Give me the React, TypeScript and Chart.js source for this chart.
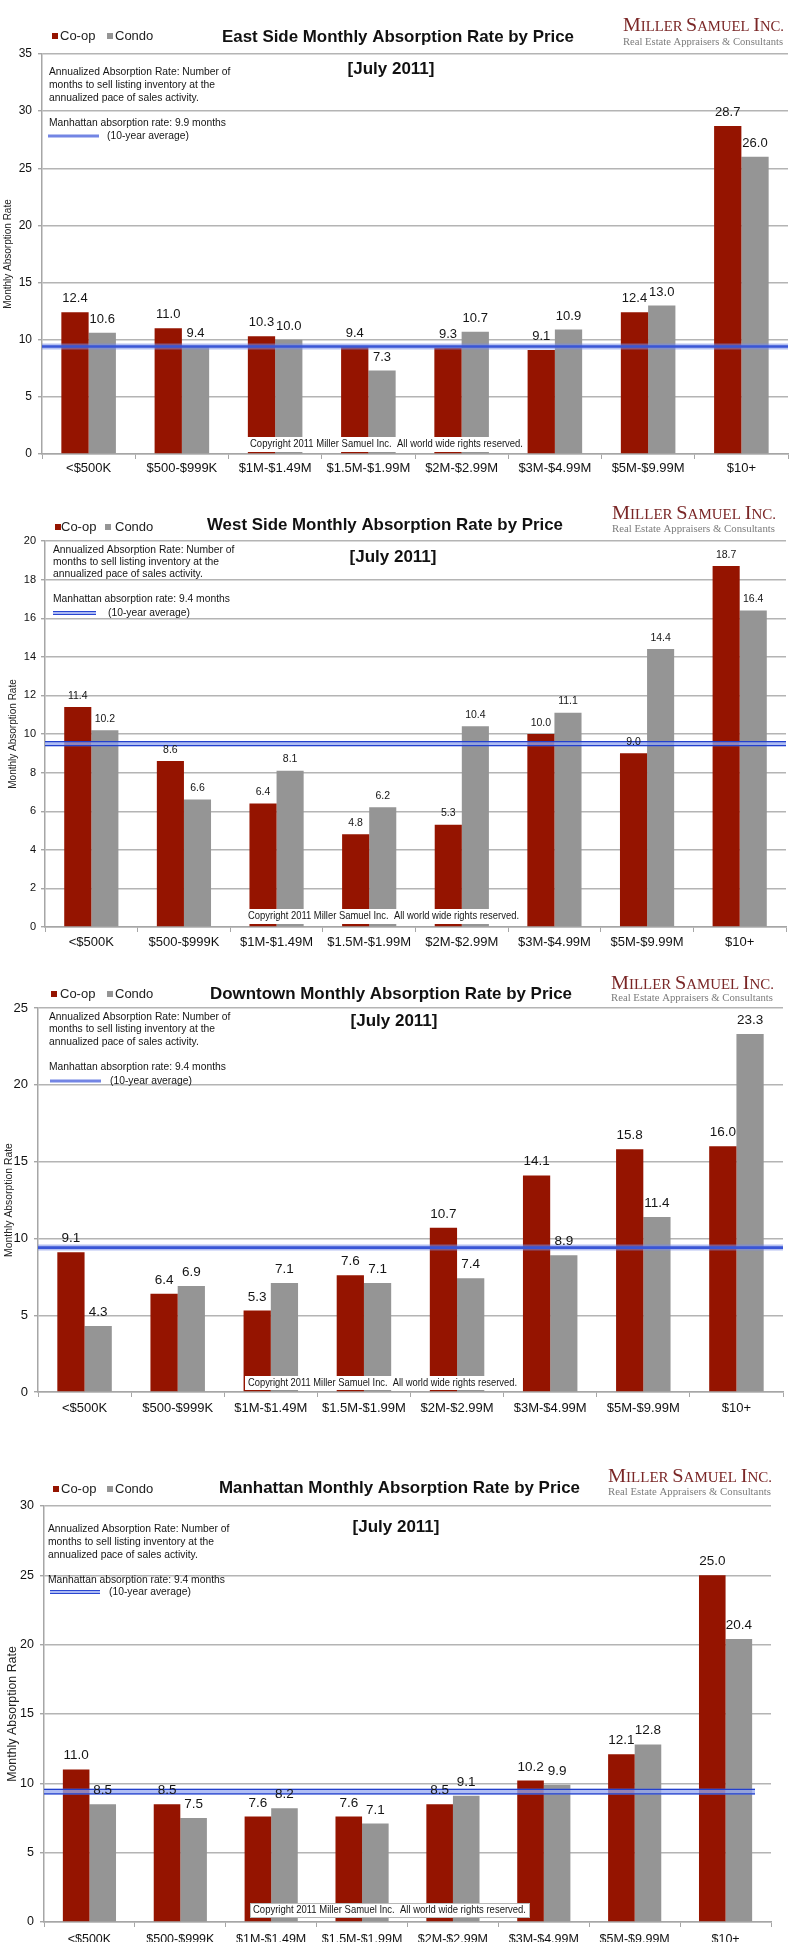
import React, { useEffect, useRef } from "react";
import { Chart, registerables } from "chart.js";

Chart.register(...registerables);

// ---------------- DATA ----------------
const CATEGORIES = ["<$500K", "$500-$999K", "$1M-$1.49M", "$1.5M-$1.99M", "$2M-$2.99M", "$3M-$4.99M", "$5M-$9.99M", "$10+"];

const EAST_COOP = [12.4, 11.0, 10.3, 9.4, 9.3, 9.1, 12.4, 28.7];
const EAST_CONDO = [10.6, 9.4, 10.0, 7.3, 10.7, 10.9, 13.0, 26.0];
const WEST_COOP = [11.4, 8.6, 6.4, 4.8, 5.3, 10.0, 9.0, 18.7];
const WEST_CONDO = [10.2, 6.6, 8.1, 6.2, 10.4, 11.1, 14.4, 16.4];
const DOWNTOWN_COOP = [9.1, 6.4, 5.3, 7.6, 10.7, 14.1, 15.8, 16.0];
const DOWNTOWN_CONDO = [4.3, 6.9, 7.1, 7.1, 7.4, 8.9, 11.4, 23.3];
const MANHATTAN_COOP = [11.0, 8.5, 7.6, 7.6, 8.5, 10.2, 12.1, 25.0];
const MANHATTAN_CONDO = [8.5, 7.5, 8.2, 7.1, 9.1, 9.9, 12.8, 20.4];

const COOP_SERIES = [EAST_COOP, WEST_COOP, DOWNTOWN_COOP, MANHATTAN_COOP];
const CONDO_SERIES = [EAST_CONDO, WEST_CONDO, DOWNTOWN_CONDO, MANHATTAN_CONDO];
const TITLES = [
  "East Side Monthly Absorption Rate by Price",
  "West Side Monthly Absorption Rate by Price",
  "Downtown Monthly Absorption Rate by Price",
  "Manhattan Monthly Absorption Rate by Price",
];
const AVG_TEXT = ["9.9", "9.4", "9.4", "9.4"];
const AVG_LINE = [9.4, 9.5, 9.4, 9.4];
const Y_MAX = [35, 20, 25, 30];
const Y_STEP = [5, 2, 5, 5];
const SERIES_NAMES = ["Co-op", "Condo"];
const PERIOD = "[July 2011]";
const NOTE_LINES = [
  "Annualized Absorption Rate: Number of",
  "months to sell listing inventory at the",
  "annualized pace of sales activity.",
];
const COPYRIGHT = "Copyright 2011 Miller Samuel Inc.  All world wide rights reserved.";
const Y_TITLE = "Monthly Absorption Rate";
const LOGO = "MILLER SAMUEL INC.";
const LOGO_SUB = "Real Estate Appraisers & Consultants";

// ---------------- STYLE / LAYOUT (panel-relative pixels) ----------------
const FF = '"Liberation Sans", Arial, Helvetica, sans-serif';
const SERIF = '"Liberation Serif", "Times New Roman", serif';
const COOP_COLOR = "#951400";
const CONDO_COLOR = "#959595";
const GRID_COLOR = "#b4b4b4";
const AXIS_COLOR = "#a6a6a6";
const TEXT = "#151515";

type Layout = {
  top: number; height: number;
  left: number; right: number; plotTop: number; plotBottom: number;
  titleX1: number; titleX2: number; titleY: number;
  legSq1: number; legTx1: number; legSq2: number; legTx2: number; legY: number;
  logoX1: number; logoX2: number; logoY: number; subY: number;
  julyX: number; julyY: number;
  noteX: number; noteY: number[]; rateY: number;
  swX1: number; swX2: number; swY: number; avgTextX: number;
  copy: [number, number, number, number]; copyText: [number, number]; copyBorder: boolean;
  labelFont: number; labelGap: number; yFont: number; yPad: number; xFont: number;
  yTitleFont: number; yTitlePad: number;
  lineStyle: "single" | "double"; lineEnd: number; xPad: number;
};

const LAYOUTS: Layout[] = [
  {
    top: 0, height: 480, left: 42, right: 788, plotTop: 54, plotBottom: 454,
    titleX1: 222, titleX2: 574, titleY: 37,
    legSq1: 52, legTx1: 60, legSq2: 107, legTx2: 115, legY: 36,
    logoX1: 623, logoX2: 784, logoY: 24, subY: 42,
    julyX: 391, julyY: 69,
    noteX: 49, noteY: [72, 85, 98], rateY: 123,
    swX1: 48, swX2: 99, swY: 136, avgTextX: 107,
    copy: [247, 437, 526, 452], copyText: [250, 523], copyBorder: false,
    labelFont: 13, labelGap: 7, yFont: 12, yPad: 6, xFont: 13, yTitleFont: 10, yTitlePad: 2,
    lineStyle: "single", lineEnd: 788, xPad: 2,
  },
  {
    top: 480, height: 470, left: 45, right: 786, plotTop: 61, plotBottom: 447,
    titleX1: 207, titleX2: 563, titleY: 45,
    legSq1: 55, legTx1: 61, legSq2: 105, legTx2: 115, legY: 47,
    logoX1: 612, logoX2: 776, logoY: 32, subY: 49,
    julyX: 393, julyY: 77,
    noteX: 53, noteY: [70, 82, 94], rateY: 119,
    swX1: 53, swX2: 96, swY: 133, avgTextX: 108,
    copy: [245, 429, 522, 444], copyText: [248, 519], copyBorder: false,
    labelFont: 10.5, labelGap: 6, yFont: 11, yPad: 5, xFont: 13, yTitleFont: 10, yTitlePad: 7,
    lineStyle: "double", lineEnd: 786, xPad: 3,
  },
  {
    top: 950, height: 490, left: 38, right: 783, plotTop: 58, plotBottom: 442,
    titleX1: 210, titleX2: 572, titleY: 44,
    legSq1: 51, legTx1: 60, legSq2: 107, legTx2: 115, legY: 44,
    logoX1: 611, logoX2: 774, logoY: 32, subY: 48,
    julyX: 394, julyY: 71,
    noteX: 49, noteY: [67, 79, 92], rateY: 117,
    swX1: 50, swX2: 101, swY: 131, avgTextX: 110,
    copy: [245, 426, 520, 440], copyText: [248, 517], copyBorder: false,
    labelFont: 13.5, labelGap: 7, yFont: 13, yPad: 6, xFont: 13, yTitleFont: 10.4, yTitlePad: 3,
    lineStyle: "single", lineEnd: 783, xPad: 4,
  },
  {
    top: 1440, height: 509, left: 44, right: 771, plotTop: 66, plotBottom: 482,
    titleX1: 219, titleX2: 580, titleY: 48,
    legSq1: 53, legTx1: 61, legSq2: 107, legTx2: 115, legY: 49,
    logoX1: 608, logoX2: 772, logoY: 35, subY: 52,
    julyX: 396, julyY: 87,
    noteX: 48, noteY: [89, 102, 115], rateY: 140,
    swX1: 50, swX2: 100, swY: 152, avgTextX: 109,
    copy: [250, 463, 530, 478], copyText: [253, 526], copyBorder: true,
    labelFont: 13.5, labelGap: 7, yFont: 12.5, yPad: 6, xFont: 12.5, yTitleFont: 12.4, yTitlePad: 5,
    lineStyle: "double", lineEnd: 755, xPad: 5,
  },
];

const X_AXIS_H = 20;

// ---------------- DRAW HELPERS ----------------
function drawText(ctx: CanvasRenderingContext2D, s: string, x: number, y: number, font: string, color: string, align: CanvasTextAlign = "left") {
  ctx.save();
  ctx.font = font;
  ctx.fillStyle = color;
  ctx.textAlign = align;
  ctx.textBaseline = "middle";
  ctx.fillText(s, x, y);
  ctx.restore();
}

// draws text stretched/compressed horizontally to span x1..x2
function fitText(ctx: CanvasRenderingContext2D, s: string, x1: number, x2: number, y: number, font: string, color: string) {
  ctx.save();
  ctx.font = font;
  const w = ctx.measureText(s).width;
  const k = (x2 - x1) / w;
  ctx.translate(x1, y);
  ctx.scale(k, 1);
  ctx.fillStyle = color;
  ctx.textAlign = "left";
  ctx.textBaseline = "middle";
  ctx.fillText(s, 0, 0);
  ctx.restore();
}

function smallCaps(ctx: CanvasRenderingContext2D, s: string, x1: number, x2: number, yBase: number, big: number, small: number, color: string) {
  const parts: { ch: string; size: number }[] = [];
  let wordStart = true;
  for (const ch of s) {
    if (ch === " ") { parts.push({ ch, size: small }); wordStart = true; continue; }
    parts.push({ ch, size: wordStart ? big : small });
    wordStart = false;
  }
  ctx.save();
  let total = 0;
  const widths = parts.map((p) => {
    ctx.font = `${p.size}px ${SERIF}`;
    const w = ctx.measureText(p.ch).width;
    total += w;
    return w;
  });
  const k = (x2 - x1) / total;
  ctx.translate(x1, yBase);
  ctx.scale(k, 1);
  ctx.fillStyle = color;
  ctx.textBaseline = "alphabetic";
  let x = 0;
  parts.forEach((p, i) => {
    ctx.font = `${p.size}px ${SERIF}`;
    ctx.fillText(p.ch, x, 0);
    x += widths[i];
  });
  ctx.restore();
}

function drawAvg(ctx: CanvasRenderingContext2D, x1: number, x2: number, y: number, style: "single" | "double", thick = 1) {
  ctx.save();
  if (style === "single") {
    ctx.strokeStyle = "rgba(120,140,232,0.55)";
    ctx.lineWidth = 6 * thick;
    ctx.beginPath(); ctx.moveTo(x1, y); ctx.lineTo(x2, y); ctx.stroke();
    ctx.strokeStyle = "#3a56d6";
    ctx.lineWidth = 2.6 * thick;
    ctx.beginPath(); ctx.moveTo(x1, y); ctx.lineTo(x2, y); ctx.stroke();
  } else {
    ctx.fillStyle = "rgba(150,168,240,0.75)";
    ctx.fillRect(x1, y - 2.5 * thick, x2 - x1, 5 * thick);
    ctx.strokeStyle = "#2340cc";
    ctx.lineWidth = 1.2;
    ctx.beginPath(); ctx.moveTo(x1, y - 2 * thick); ctx.lineTo(x2, y - 2 * thick); ctx.stroke();
    ctx.beginPath(); ctx.moveTo(x1, y + 2 * thick); ctx.lineTo(x2, y + 2 * thick); ctx.stroke();
  }
  ctx.restore();
}

function makeDecor(idx: number) {
  const L = LAYOUTS[idx];
  return {
    id: "decor" + idx,
    afterDatasetsDraw(chart: any) {
      const ctx: CanvasRenderingContext2D = chart.ctx;
      const yScale = chart.scales.y;
      // copyright box
      const [cx1, cy1, cx2, cy2] = L.copy;
      ctx.save();
      ctx.fillStyle = "#ffffff";
      ctx.fillRect(cx1, cy1, cx2 - cx1, cy2 - cy1);
      if (L.copyBorder) {
        ctx.strokeStyle = "#b8b8b8";
        ctx.lineWidth = 1;
        ctx.strokeRect(cx1 + 0.5, cy1 + 0.5, cx2 - cx1 - 1, cy2 - cy1 - 1);
      }
      ctx.restore();
      fitText(ctx, COPYRIGHT, L.copyText[0], L.copyText[1], (cy1 + cy2) / 2, `10.5px ${FF}`, TEXT);

      // average line
      const yAvg = yScale.getPixelForValue(AVG_LINE[idx]);
      drawAvg(ctx, chart.chartArea.left, L.lineEnd, yAvg, L.lineStyle, idx === 3 ? 1.15 : 1);

      // data labels
      ctx.save();
      ctx.font = `${L.labelFont}px ${FF}`;
      ctx.fillStyle = TEXT;
      ctx.textAlign = "center";
      ctx.textBaseline = "bottom";
      chart.data.datasets.forEach((ds: any, di: number) => {
        const meta = chart.getDatasetMeta(di);
        meta.data.forEach((el: any, i: number) => {
          const v = ds.data[i];
          ctx.fillText(Number(v).toFixed(1), el.x, el.y - L.labelGap);
        });
      });
      ctx.restore();
    },
    afterDraw(chart: any) {
      const ctx: CanvasRenderingContext2D = chart.ctx;
      // title
      fitText(ctx, TITLES[idx], L.titleX1, L.titleX2, L.titleY, `bold 17px ${FF}`, "#111");
      // legend
      ctx.save();
      ctx.fillStyle = COOP_COLOR;
      ctx.fillRect(L.legSq1, L.legY - 3, 6, 6);
      ctx.fillStyle = CONDO_COLOR;
      ctx.fillRect(L.legSq2, L.legY - 3, 6, 6);
      ctx.restore();
      drawText(ctx, SERIES_NAMES[0], L.legTx1, L.legY, `13px ${FF}`, "#222");
      drawText(ctx, SERIES_NAMES[1], L.legTx2, L.legY, `13px ${FF}`, "#222");
      // logo
      smallCaps(ctx, LOGO, L.logoX1, L.logoX2, L.logoY + 7, 19, 14, "#7a2626");
      fitText(ctx, LOGO_SUB, L.logoX1, L.logoX2 - 1, L.subY, `11px ${SERIF}`, "#7c7c7c");
      // period
      drawText(ctx, PERIOD, L.julyX, L.julyY, `bold 17px ${FF}`, "#111", "center");
      // notes
      NOTE_LINES.forEach((s, i) => drawText(ctx, s, L.noteX, L.noteY[i], `10.3px ${FF}`, TEXT));
      drawText(ctx, `Manhattan absorption rate: ${AVG_TEXT[idx]} months`, L.noteX, L.rateY, `10.3px ${FF}`, TEXT);
      // swatch
      ctx.save();
      if (L.lineStyle === "single") {
        ctx.strokeStyle = "#7385e4";
        ctx.lineWidth = 3;
        ctx.beginPath(); ctx.moveTo(L.swX1, L.swY); ctx.lineTo(L.swX2, L.swY); ctx.stroke();
      } else {
        ctx.fillStyle = "rgba(150,168,240,0.8)";
        ctx.fillRect(L.swX1, L.swY - 2, L.swX2 - L.swX1, 4);
        ctx.strokeStyle = "#2a46d0";
        ctx.lineWidth = 1;
        ctx.beginPath(); ctx.moveTo(L.swX1, L.swY - 1.5); ctx.lineTo(L.swX2, L.swY - 1.5); ctx.stroke();
        ctx.beginPath(); ctx.moveTo(L.swX1, L.swY + 1.5); ctx.lineTo(L.swX2, L.swY + 1.5); ctx.stroke();
      }
      ctx.restore();
      drawText(ctx, "(10-year average)", L.avgTextX, L.swY, `10.3px ${FF}`, TEXT);
    },
  };
}

function buildConfig(idx: number): any {
  const L = LAYOUTS[idx];
  return {
    type: "bar",
    data: {
      labels: CATEGORIES,
      datasets: [
        { label: SERIES_NAMES[0], data: COOP_SERIES[idx], backgroundColor: COOP_COLOR, categoryPercentage: 0.585, barPercentage: 1 },
        { label: SERIES_NAMES[1], data: CONDO_SERIES[idx], backgroundColor: CONDO_COLOR, categoryPercentage: 0.585, barPercentage: 1 },
      ],
    },
    options: {
      responsive: false,
      animation: false,
      devicePixelRatio: 1,
      layout: {
        padding: { top: L.plotTop, left: 0, right: 800 - L.right, bottom: L.height - L.plotBottom - X_AXIS_H },
      },
      plugins: {
        legend: { display: false },
        title: { display: false },
        tooltip: { enabled: false },
      },
      scales: {
        x: {
          grid: { display: true, drawOnChartArea: false, drawTicks: true, tickLength: 5, color: AXIS_COLOR, lineWidth: 1, offset: true },
          border: { display: true, color: AXIS_COLOR, width: 1.5 },
          ticks: { font: { family: FF, size: L.xFont }, color: "#111", padding: L.xPad, maxRotation: 0, minRotation: 0, autoSkip: false },
          afterFit: (s: any) => { s.height = X_AXIS_H; },
        },
        y: {
          min: 0,
          max: Y_MAX[idx],
          ticks: { stepSize: Y_STEP[idx], font: { family: FF, size: L.yFont }, color: "#111", padding: L.yPad },
          grid: { color: GRID_COLOR, lineWidth: 1.4, tickLength: 4, drawTicks: true, tickColor: AXIS_COLOR },
          border: { display: true, color: AXIS_COLOR, width: 1.5 },
          title: { display: true, text: Y_TITLE, color: "#222", font: { family: FF, size: L.yTitleFont }, padding: { top: L.yTitlePad, bottom: 0 } },
          afterFit: (s: any) => { s.width = L.left; },
        },
      },
    },
    plugins: [makeDecor(idx)],
  };
}

function Panel({ idx }: { idx: number }) {
  const ref = useRef<HTMLCanvasElement>(null);
  const L = LAYOUTS[idx];
  useEffect(() => {
    const chart = new Chart(ref.current as HTMLCanvasElement, buildConfig(idx));
    return () => chart.destroy();
  }, [idx]);
  return (
    <canvas
      ref={ref}
      width={800}
      height={L.height}
      style={{ position: "absolute", left: 0, top: L.top, width: 800, height: L.height, display: "block" }}
    />
  );
}

export default function App() {
  return (
    <div style={{ position: "absolute", left: 0, top: 0, width: 800, height: 1949, background: "#fff", overflow: "hidden" }}>
      {LAYOUTS.map((_, i) => (
        <Panel key={i} idx={i} />
      ))}
    </div>
  );
}
